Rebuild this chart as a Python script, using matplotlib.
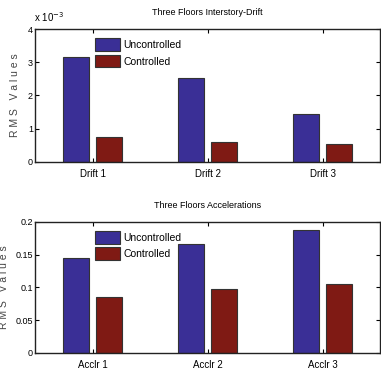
import matplotlib
matplotlib.use('Agg')
import matplotlib.pyplot as plt
import numpy as np

plt.rcParams['font.family'] = ['Liberation Sans Narrow', 'Liberation Sans', 'DejaVu Sans']

drift_labels = ['Drift 1', 'Drift 2', 'Drift 3']
drift_unc = [3.17e-3, 2.54e-3, 1.44e-3]
drift_con = [0.74e-3, 0.61e-3, 0.54e-3]

acc_labels = ['Acclr 1', 'Acclr 2', 'Acclr 3']
acc_unc = [0.145, 0.166, 0.187]
acc_con = [0.086, 0.097, 0.105]

blue = '#3a2f96'
red = '#7f1a14'

fig = plt.figure(figsize=(3.81, 3.73), dpi=100)
ax1 = fig.add_axes([0.092, 0.566, 0.906, 0.356])
ax2 = fig.add_axes([0.092, 0.054, 0.906, 0.351])


def draw(ax, labels, unc, con, scale, yticks, yticklabels, title, label_x):
    x = np.arange(1, len(labels) + 1)
    w = 0.225
    ax.bar(x - 0.145, np.array(unc) * scale, w, color=blue, edgecolor='#333333', linewidth=0.8, label='Uncontrolled')
    ax.bar(x + 0.145, np.array(con) * scale, w, color=red, edgecolor='#333333', linewidth=0.8, label='Controlled')
    ax.set_xlim(0.5, 3.5)
    ax.set_ylim(yticks[0], yticks[-1])
    ax.set_xticks(x)
    ax.set_xticklabels(labels, fontsize=7)
    ax.set_yticks(yticks)
    ax.set_yticklabels(yticklabels, fontsize=6.5)
    ax.tick_params(direction='in', length=3, width=0.8, top=True, right=True)
    ax.tick_params(axis='x', pad=5)
    ax.tick_params(axis='y', pad=1.5)
    for s in ax.spines.values():
        s.set_linewidth(1.0)
        s.set_color('#222222')
    ax.set_title(title, fontsize=6.5, pad=10)
    ax.set_ylabel('R M S   V a l u e s', fontsize=7.5, color='#444444')
    ax.yaxis.set_label_coords(label_x, 0.5)
    ax.legend(loc='upper left', bbox_to_anchor=(0.175, 0.93), frameon=False,
              fontsize=7.5, handlelength=2.4, handleheight=1.5, handletextpad=0.3,
              labelspacing=0.35, borderpad=0, borderaxespad=0)


draw(ax1, drift_labels, drift_unc, drift_con, 1e3, [0, 1, 2, 3, 4],
     ['0', '1', '2', '3', '4'], 'Three Floors Interstory-Drift', -0.045)
draw(ax2, acc_labels, acc_unc, acc_con, 1.0, [0, 0.05, 0.1, 0.15, 0.2],
     ['0', '0.05', '0.1', '0.15', '0.2'], 'Three Floors Accelerations', -0.075)

fig.text(0.09, 0.955, r'x 10$^{-3}$', fontsize=7, ha='left', va='center')

fig.savefig('out.png', dpi=100)
